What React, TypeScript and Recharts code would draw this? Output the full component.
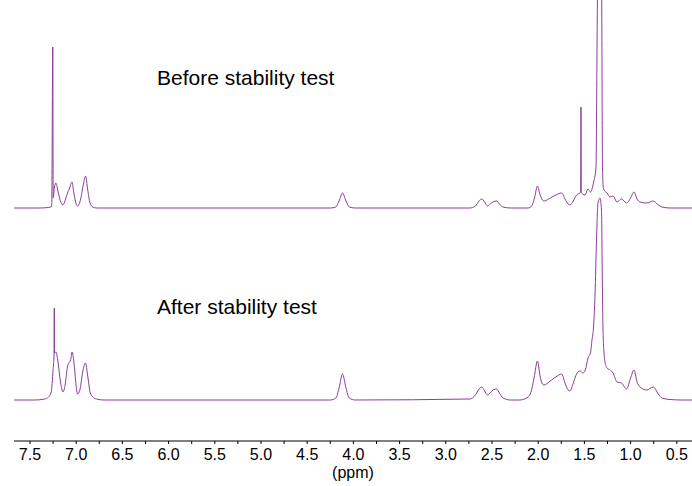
import { Line, LineChart, XAxis, YAxis } from "recharts";

// [ppm, height above own baseline]
const beforePeaks: [number, number][] = [
  [7.68, 0], [7.4, 0], [7.3, 0.5], [7.265, 1.5], [7.253, 161], [7.249, 10], [7.235, 21], [7.219, 25],
  [7.2, 18], [7.17, 7], [7.143, 3], [7.115, 9], [7.09, 16], [7.075, 19], [7.045, 26], [7.025, 15],
  [7.0, 4], [6.984, 2], [6.96, 6], [6.925, 22], [6.899, 32], [6.875, 18], [6.85, 5], [6.82, 1], [6.78, 0],
  [4.25, 0], [4.19, 1], [4.155, 7], [4.118, 15], [4.08, 7], [4.045, 1], [3.98, 0],
  [2.74, 0], [2.68, 2], [2.64, 7], [2.611, 9], [2.58, 6], [2.549, 2], [2.52, 4], [2.48, 6.5], [2.449, 7],
  [2.42, 4], [2.38, 1], [2.3, 0], [2.11, 0], [2.07, 2], [2.04, 10], [2.008, 22], [1.985, 15], [1.955, 8],
  [1.937, 7], [1.87, 10], [1.81, 13], [1.746, 15], [1.71, 9], [1.675, 4], [1.656, 3], [1.62, 7],
  [1.585, 13], [1.548, 15], [1.54, 16], [1.537, 101], [1.534, 16], [1.52, 14], [1.494, 13], [1.461, 19],
  [1.434, 16], [1.4, 26], [1.375, 40], [1.36, 200], [1.331, 520], [1.312, 200], [1.304, 40],
  [1.295, 20], [1.288, 18], [1.255, 15], [1.223, 11], [1.19, 12], [1.147, 6], [1.098, 9], [1.044, 5],
  [1.0, 10], [0.963, 16], [0.93, 9], [0.898, 6], [0.828, 5], [0.754, 7], [0.7, 3], [0.66, 1],
  [0.574, 0], [0.33, 0],
];

const afterPeaks: [number, number][] = [
  [7.68, 0], [7.45, 0], [7.34, 1], [7.3, 3], [7.27, 8], [7.25, 30], [7.24, 44], [7.237, 92], [7.234, 47],
  [7.219, 48], [7.2, 40], [7.17, 18], [7.143, 8], [7.12, 15], [7.095, 33], [7.08, 37], [7.06, 40],
  [7.045, 48], [7.025, 38], [7.0, 14], [6.986, 6], [6.96, 10], [6.93, 28], [6.9, 37], [6.875, 24],
  [6.85, 8], [6.82, 3], [6.78, 1], [6.7, 0],
  [4.25, 0], [4.19, 2], [4.155, 12], [4.118, 26], [4.08, 12], [4.045, 2], [3.98, 0],
  [2.74, 1], [2.68, 5], [2.64, 11], [2.611, 13], [2.58, 9], [2.549, 5], [2.52, 7], [2.48, 10.5],
  [2.449, 11], [2.42, 7], [2.38, 2], [2.3, 0], [2.2, 0], [2.11, 3], [2.078, 8], [2.045, 22], [2.008, 39],
  [1.98, 24], [1.955, 16], [1.937, 15], [1.87, 19], [1.81, 23], [1.746, 26], [1.71, 17], [1.675, 10],
  [1.656, 9], [1.62, 17], [1.585, 26], [1.548, 29], [1.515, 27], [1.49, 30], [1.461, 42], [1.434, 47],
  [1.418, 60], [1.402, 72], [1.385, 105], [1.369, 160], [1.353, 197], [1.331, 202], [1.315, 190],
  [1.306, 120], [1.299, 72], [1.288, 48], [1.277, 38], [1.255, 32], [1.223, 30], [1.19, 27],
  [1.147, 18], [1.098, 17], [1.044, 11], [1.0, 22], [0.963, 30], [0.93, 18], [0.898, 13], [0.828, 10],
  [0.754, 13], [0.7, 6], [0.66, 2], [0.574, 0.5], [0.45, 0], [0.33, 0],
];

const xTicks = [7.5, 7.25, 7.0, 6.75, 6.5, 6.25, 6.0, 5.75, 5.5, 5.25, 5.0, 4.75, 4.5, 4.25, 4.0, 3.75, 3.5, 3.25, 3.0, 2.75, 2.5, 2.25, 2.0, 1.75, 1.5, 1.25, 1.0, 0.75, 0.5];

const TOP_BASE = 233;
const BOTTOM_BASE = 41;
const COLOR = "#8a3d98";
const FONT = "'Liberation Sans', Arial, sans-serif";

const beforeData = beforePeaks.map(([ppm, h]) => ({ ppm, v: TOP_BASE + h }));
const afterData = afterPeaks.map(([ppm, h]) => ({ ppm, v: BOTTOM_BASE + h }));

export default function App() {
  return (
    <div style={{ position: "absolute", left: 0, top: 0, width: 692, height: 486, background: "#fff", fontFamily: FONT }}>
      <LineChart width={692} height={486} margin={{ top: 0, right: 0, bottom: 0, left: 14 }}>
        <XAxis
          dataKey="ppm"
          type="number"
          reversed
          domain={[0.3355, 7.673]}
          allowDataOverflow
          ticks={xTicks}
          interval={0}
          height={45}
          tickSize={3}
          tickMargin={5}
          stroke="#000"
          tick={{ fill: "#000", fontSize: 16, fontFamily: FONT }}
          tickFormatter={(v: number) => (Math.abs(v * 2 - Math.round(v * 2)) < 1e-6 ? v.toFixed(1) : "")}
        />
        <YAxis hide type="number" domain={[0, 441]} allowDataOverflow />
        <Line data={beforeData} dataKey="v" type="monotone" stroke={COLOR} strokeWidth={1} dot={false} activeDot={false} isAnimationActive={false} />
        <Line data={afterData} dataKey="v" type="monotone" stroke={COLOR} strokeWidth={1} dot={false} activeDot={false} isAnimationActive={false} />
      </LineChart>
      <div style={{ position: "absolute", left: 157, top: 66, fontSize: 21, color: "#000", whiteSpace: "nowrap" }}>Before stability test</div>
      <div style={{ position: "absolute", left: 157, top: 295, fontSize: 21, color: "#000", whiteSpace: "nowrap" }}>After stability test</div>
      <div style={{ position: "absolute", left: 353, top: 464, transform: "translateX(-50%)", fontSize: 16, color: "#000" }}>(ppm)</div>
    </div>
  );
}
